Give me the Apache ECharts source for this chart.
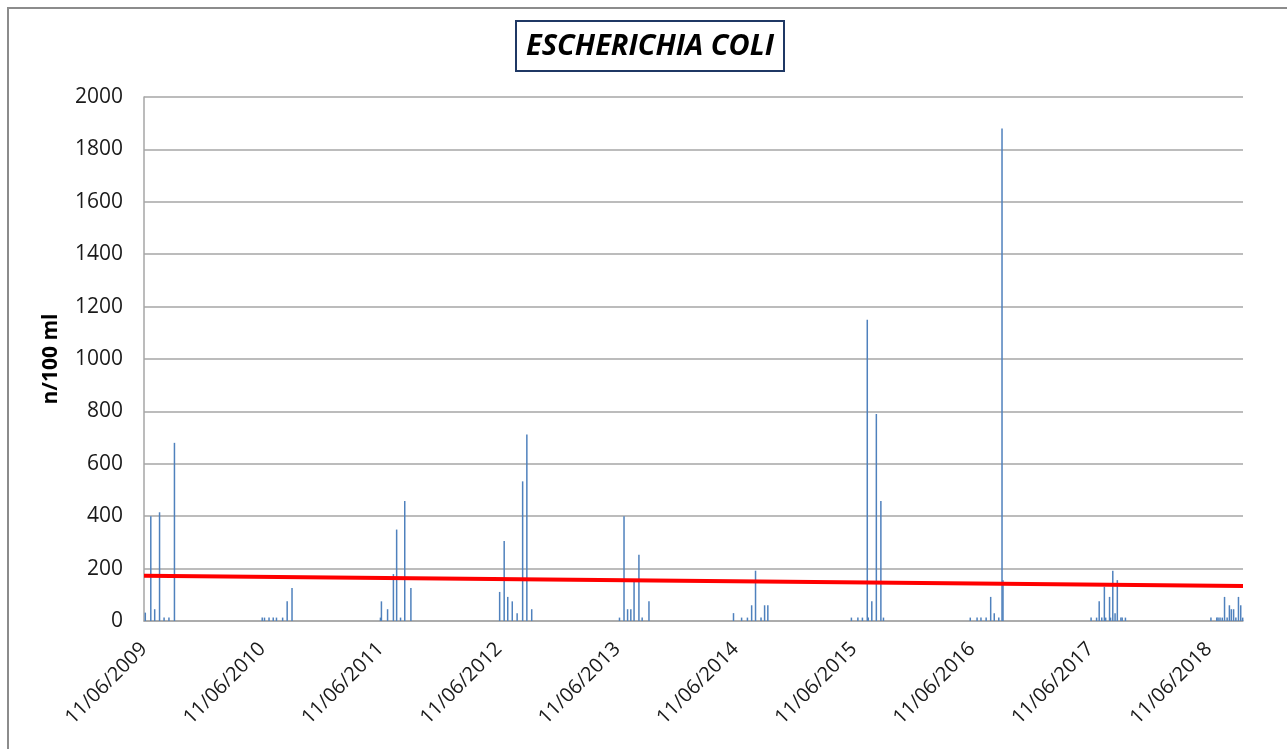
<!DOCTYPE html>
<html>
<head>
<meta charset="utf-8">
<title>Escherichia coli</title>
<script src="https://cdn.jsdelivr.net/npm/echarts@6/dist/echarts.min.js"></script>
<style>
    html, body { margin: 0; padding: 0; background: #fff; }
    #chart_ecoli { width: 1287px; height: 749px; }
</style>
</head>
<body>
<div id="chart_ecoli"></div>
<script>
// dates of the samples (dd/mm/yyyy on the axis)
var sampleDates = [
    '2009-06-15', '2009-07-02', '2009-07-14', '2009-07-29', '2009-08-12', '2009-08-27', '2009-09-13',
    '2010-06-11', '2010-06-18', '2010-07-02', '2010-07-15', '2010-07-25', '2010-08-13', '2010-08-27', '2010-09-11',
    '2011-06-11', '2011-06-14', '2011-07-03', '2011-07-21', '2011-07-31', '2011-08-12', '2011-08-25', '2011-09-13',
    '2012-06-13', '2012-06-27', '2012-07-08', '2012-07-22', '2012-08-06', '2012-08-23', '2012-09-05', '2012-09-20',
    '2013-06-18', '2013-07-02', '2013-07-13', '2013-07-23', '2013-08-02', '2013-08-17', '2013-08-27', '2013-09-17',
    '2014-06-05', '2014-06-30', '2014-07-18', '2014-07-31', '2014-08-12', '2014-08-29', '2014-09-09', '2014-09-19',
    '2015-06-04', '2015-06-24', '2015-07-08', '2015-07-23', '2015-07-26', '2015-08-06', '2015-08-20', '2015-09-03', '2015-09-11',
    '2016-06-05', '2016-06-26', '2016-07-08', '2016-07-24', '2016-08-07', '2016-08-18', '2016-09-01', '2016-09-11', '2016-09-14',
    '2017-06-13', '2017-06-30', '2017-07-08', '2017-07-16', '2017-07-24', '2017-07-28', '2017-08-09', '2017-08-12',
    '2017-08-19', '2017-08-26', '2017-09-02', '2017-09-13', '2017-09-17', '2017-09-27',
    '2018-06-18', '2018-07-06', '2018-07-10', '2018-07-16', '2018-07-23', '2018-07-30', '2018-08-07', '2018-08-14',
    '2018-08-20', '2018-08-27', '2018-09-03', '2018-09-11', '2018-09-18', '2018-09-24'
];

// E. coli, n/100 ml
var ecoliCounts = [
    32, 400, 45, 415, 13, 13, 680,
    13, 13, 13, 13, 13, 13, 75, 126,
    13, 75, 45, 179, 349, 13, 458, 126,
    111, 305, 92, 75, 30, 533, 712, 45,
    13, 400, 45, 45, 151, 253, 13, 75,
    30, 13, 13, 60, 192, 13, 60, 60,
    13, 13, 13, 1150, 13, 75, 790, 458, 13,
    13, 13, 13, 13, 92, 30, 13, 1880, 156,
    13, 13, 75, 13, 131, 13, 92, 13,
    192, 30, 156, 13, 13, 13,
    13, 13, 13, 13, 13, 92, 13, 60,
    45, 45, 13, 92, 60, 13
];

// linear trend (red line), read at both ends of the axis
var trendDates = ['2009-06-11', '2018-09-25'];
var trendValues = [173, 134];

var tickLabels = ['11/06/2009', '11/06/2010', '11/06/2011', '11/06/2012', '11/06/2013',
    '11/06/2014', '11/06/2015', '11/06/2016', '11/06/2017', '11/06/2018'];

var startDate = '2009-06-11';
var endDate = '2018-09-25';
var YEAR = 365.25;

function dayOf(d) {
    return (Date.parse(d) - Date.parse(startDate)) / 86400000;
}

var barData = sampleDates.map(function (d, i) {
    return [dayOf(d), ecoliCounts[i]];
});
var trendData = trendDates.map(function (d, i) {
    return [dayOf(d), trendValues[i]];
});

var chart_ecoli = echarts.init(document.getElementById('chart_ecoli'));

var option = {
    backgroundColor: '#fff',
    animation: false,
    title: {
        text: 'ESCHERICHIA COLI',
        left: 516,
        top: 21,
        padding: [11, 10, 10, 10],
        borderColor: '#1F3864',
        borderWidth: 2,
        textStyle: {
            fontFamily: 'Open Sans',
            fontSize: 29,
            fontWeight: 'bold',
            fontStyle: 'italic',
            color: '#000'
        }
    },
    graphic: [
        {
            type: 'rect',
            shape: {x: 8, y: 8, width: 1290, height: 800},
            style: {fill: 'none', stroke: '#8C8C8C', lineWidth: 2},
            silent: true
        }
    ],
    grid: {
        left: 144,
        right: 44,
        top: 97,
        bottom: 128
    },
    xAxis: {
        type: 'value',
        min: 0,
        max: dayOf(endDate),
        interval: YEAR,
        axisLine: {lineStyle: {color: '#A6A6A6', width: 1.5}},
        axisTick: {show: false},
        splitLine: {show: false},
        axisLabel: {
            rotate: 45,
            margin: 25,
            showMaxLabel: false,
            fontFamily: 'Open Sans',
            fontSize: 20,
            color: '#1a1a1a',
            formatter: function (v) {
                var i = Math.round(v / YEAR);
                if (Math.abs(v - i * YEAR) > 1) return '';
                return tickLabels[i] || '';
            }
        }
    },
    yAxis: {
        type: 'value',
        min: 0,
        max: 2000,
        interval: 200,
        name: 'n/100 ml',
        nameLocation: 'middle',
        nameGap: 82,
        nameTextStyle: {
            fontFamily: 'Open Sans',
            fontSize: 21,
            fontWeight: 'bold',
            color: '#000'
        },
        axisLine: {show: true, lineStyle: {color: '#A6A6A6', width: 1.5}},
        axisTick: {show: false},
        splitLine: {lineStyle: {color: '#A6A6A6', width: 1.5}},
        axisLabel: {
            margin: 21,
            fontFamily: 'Open Sans',
            fontSize: 21,
            color: '#1a1a1a',
            formatter: function (v) {
                return String(v);
            }
        }
    },
    series: [
        {
            name: 'E. coli',
            type: 'bar',
            barWidth: 1.5,
            data: barData,
            itemStyle: {color: '#4F81BD'}
        },
        {
            name: 'trend',
            type: 'line',
            data: trendData,
            symbol: 'none',
            z: 5,
            lineStyle: {color: '#FF0000', width: 4}
        }
    ]
};
chart_ecoli.setOption(option);

window.onresize = chart_ecoli.resize;
</script>
</body>
</html>
